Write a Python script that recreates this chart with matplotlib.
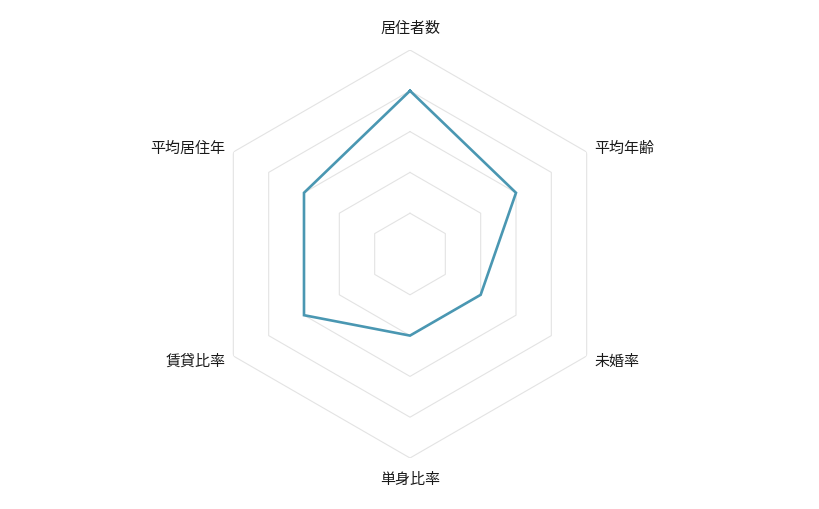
import numpy as np
import matplotlib
matplotlib.use("Agg")
import matplotlib.pyplot as plt

plt.rcParams['font.family'] = ['Noto Sans CJK JP', 'DejaVu Sans']

# Radar axes and values (scale 0-5)
categories = ["居住者数", "平均年齢", "未婚率", "単身比率", "賃貸比率", "平均居住年"]
values = [4, 3, 2, 2, 3, 3]
levels = [1, 2, 3, 4, 5]

LINE_COLOR = "#4a97b2"
GRID_COLOR = "#e3e3e3"

fig = plt.figure(figsize=(8.2, 5.1), dpi=100)
ax = fig.add_axes([206 / 820, 51 / 510, 408 / 820, 408 / 510], projection="polar")
ax.set_theta_offset(np.pi / 2)
ax.set_theta_direction(-1)
ax.set_ylim(0, 5)
ax.grid(False)
ax.spines["polar"].set_visible(False)
ax.set_xticks([])
ax.set_yticks([])
ax.patch.set_alpha(0)

n = len(categories)
angles = np.arange(n) * 2 * np.pi / n
closed = np.append(angles, angles[0])

# Hexagon grid rings
for lv in levels:
    ax.plot(closed, [lv] * (n + 1), color=GRID_COLOR, lw=0.8, zorder=1)

# Data line
ax.plot(closed, values + values[:1], color=LINE_COLOR, lw=1.9, zorder=3,
        solid_joinstyle="miter")

# Labels
offsets = [(0, 22, "center"), (8, 4, "left"), (8, -5, "left"),
           (0, -21, "center"), (-8, -5, "right"), (-8, 4, "right")]
for ang, lab, (dx, dy, ha) in zip(angles, categories, offsets):
    ax.annotate(lab, xy=(ang, 5), xytext=(dx, dy), textcoords="offset pixels",
                ha=ha, va="center", fontsize=10.8, color="#1a1a1a",
                annotation_clip=False)

fig.savefig("out.png", dpi=100)
